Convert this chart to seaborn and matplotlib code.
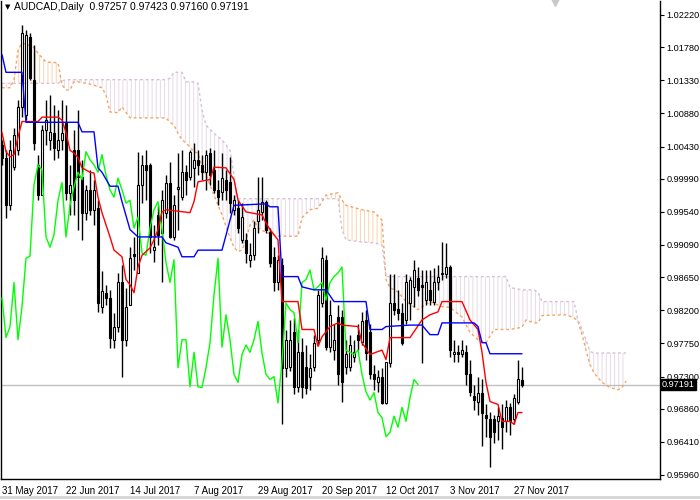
import numpy as np
import pandas as pd
import seaborn as sns
import matplotlib.pyplot as plt
from matplotlib.lines import Line2D

sns.set_theme(style="white")
plt.rcParams['font.family'] = ['Liberation Sans', 'DejaVu Sans']
plt.rcParams['hatch.linewidth'] = 0.7

# ---- daily candles, 31 May 2017 .. 29 Nov 2017 ----
opens = [1.0045, 1.0028, 0.9963, 1.0015, 1.0038, 1.0097, 1.0086, 1.0192, 1.0134, 1.0018,
         0.9977, 1.0066, 1.0052, 1.0061, 1.0038, 1.0052, 1.0075, 0.9980, 1.0038, 1.0038,
         1.0002, 0.9953, 0.9984, 0.9957, 0.9959, 0.9825, 0.9844, 0.9837, 0.9780, 0.9798,
         0.9858, 0.9780, 0.9828, 0.9897, 0.9871, 0.9991, 1.0018, 1.0018, 0.9902, 0.9950,
         0.9926, 0.9953, 0.9994, 0.9920, 0.9985, 0.9974, 1.0008, 1.0002, 1.0014, 1.0025,
         1.0018, 1.0008, 1.0034, 1.0011, 0.9984, 0.9981, 0.9998, 0.9995, 0.9957, 0.9959,
         0.9916, 0.9916, 0.9889, 0.9895, 0.9941, 0.9954, 0.9968, 0.9927, 0.9893, 0.9858,
         0.9882, 0.9742, 0.9743, 0.9791, 0.9716, 0.9763, 0.9743, 0.9730, 0.9743, 0.9780,
         0.9830, 0.9889, 0.9770, 0.9766, 0.9811, 0.9811, 0.9743, 0.9743, 0.9757, 0.9787,
         0.9777, 0.9807, 0.9790, 0.9733, 0.9723, 0.9730, 0.9694, 0.9749, 0.9830, 0.9822,
         0.9817, 0.9807, 0.9830, 0.9852, 0.9864, 0.9855, 0.9834, 0.9848, 0.9832, 0.9858,
         0.9869, 0.9869, 0.9879, 0.9760, 0.9763, 0.9760, 0.9763, 0.9733, 0.9703, 0.9696,
         0.9708, 0.9677, 0.9672, 0.9672, 0.9669, 0.9674, 0.9669, 0.9688, 0.9672, 0.9696,
         0.97257]
highs = [1.0052, 1.0038, 1.0052, 1.0068, 1.0106, 1.0208, 1.0202, 1.0198, 1.0181, 1.0032,
         1.0072, 1.0106, 1.0113, 1.0100, 1.0093, 1.0106, 1.0100, 1.0018, 1.0066, 1.0093,
         1.0025, 0.9991, 1.0011, 0.9998, 0.9970, 0.9873, 0.9855, 0.9848, 0.9817, 0.9871,
         0.9882, 0.9851, 0.9906, 0.9920, 1.0036, 1.0032, 1.0038, 1.0021, 0.9936, 0.9963,
         0.9984, 1.0004, 1.0022, 0.9977, 1.0034, 1.0038, 1.0018, 1.0038, 1.0048, 1.0038,
         1.0032, 1.0038, 1.0041, 1.0038, 0.9998, 1.0034, 1.0011, 1.0029, 0.9977, 0.9970,
         0.9966, 0.9925, 0.9912, 0.9941, 1.0002, 1.0002, 0.9970, 0.9932, 0.9906, 0.9895,
         0.9891, 0.9794, 0.9807, 0.9810, 0.9794, 0.9783, 0.9773, 0.9760, 0.9787, 0.9848,
         0.9906, 0.9895, 0.9834, 0.9801, 0.9828, 0.9821, 0.9780, 0.9787, 0.9780, 0.9801,
         0.9818, 0.9821, 0.9801, 0.9746, 0.9739, 0.9742, 0.9750, 0.9869, 0.9869, 0.9848,
         0.9830, 0.9869, 0.9866, 0.9889, 0.9879, 0.9875, 0.9875, 0.9875, 0.9878, 0.9882,
         0.9913, 0.9912, 0.9882, 0.9780, 0.9773, 0.9780, 0.9773, 0.9753, 0.9719, 0.9729,
         0.9726, 0.9692, 0.9682, 0.9678, 0.9689, 0.9692, 0.9698, 0.9694, 0.9706, 0.9753,
         0.97423]
lows = [1.0018, 0.9946, 0.9957, 1.0011, 1.0032, 1.0083, 1.0079, 1.0134, 1.0038, 0.9970,
        0.9977, 1.0045, 1.0038, 1.0025, 1.0028, 1.0038, 0.9970, 0.9950, 0.9950, 0.9930,
        0.9916, 0.9943, 0.9950, 0.9936, 0.9818, 0.9817, 0.9828, 0.9769, 0.9769, 0.9790,
        0.9730, 0.9772, 0.9828, 0.9875, 0.9871, 0.9966, 0.9970, 0.9898, 0.9886, 0.9909,
        0.9858, 0.9946, 0.9919, 0.9916, 0.9930, 0.9970, 0.9977, 0.9998, 0.9988, 1.0004,
        0.9998, 0.9984, 0.9991, 0.9980, 0.9963, 0.9970, 0.9970, 0.9953, 0.9950, 0.9925,
        0.9912, 0.9885, 0.9879, 0.9889, 0.9925, 0.9943, 0.9925, 0.9879, 0.9846, 0.9848,
        0.9665, 0.9729, 0.9737, 0.9706, 0.9709, 0.9701, 0.9706, 0.9712, 0.9737, 0.9773,
        0.9824, 0.9766, 0.9763, 0.9753, 0.9719, 0.9696, 0.9733, 0.9737, 0.9750, 0.9766,
        0.9773, 0.9753, 0.9726, 0.9712, 0.9709, 0.9692, 0.9692, 0.9743, 0.9814, 0.9807,
        0.9773, 0.9801, 0.9807, 0.9825, 0.9839, 0.9749, 0.9828, 0.9828, 0.9828, 0.9848,
        0.9862, 0.9864, 0.9757, 0.9750, 0.9750, 0.9756, 0.9719, 0.9703, 0.9685, 0.9678,
        0.9635, 0.9648, 0.9607, 0.9639, 0.9644, 0.9632, 0.9655, 0.9651, 0.9665, 0.9692,
        0.97160]
closes = [1.0028, 0.9963, 1.0038, 1.0059, 1.0097, 1.0198, 1.0195, 1.0136, 1.0048, 0.9977,
          1.0066, 1.0079, 1.0063, 1.0041, 1.0052, 1.0061, 0.9980, 0.9991, 0.9970, 1.0002,
          0.9953, 0.9984, 0.9957, 0.9984, 0.9830, 0.9846, 0.9837, 0.9783, 0.9798, 0.9858,
          0.9780, 0.9825, 0.9891, 0.9894, 0.9991, 1.0018, 1.0011, 0.9920, 0.9906, 0.9923,
          0.9970, 0.9994, 0.9920, 0.9963, 0.9988, 1.0008, 0.9998, 1.0036, 1.0025, 1.0018,
          1.0008, 1.0032, 1.0004, 0.9984, 0.9974, 1.0000, 0.9984, 0.9966, 0.9970, 0.9932,
          0.9947, 0.9898, 0.9895, 0.9932, 0.9957, 0.9968, 0.9930, 0.9885, 0.9858, 0.9889,
          0.9742, 0.9780, 0.9780, 0.9716, 0.9763, 0.9716, 0.9715, 0.9742, 0.9776, 0.9841,
          0.9891, 0.9770, 0.9814, 0.9780, 0.9733, 0.9722, 0.9760, 0.9773, 0.9763, 0.9780,
          0.9805, 0.9762, 0.9733, 0.9726, 0.9730, 0.9694, 0.9750, 0.9830, 0.9821, 0.9817,
          0.9776, 0.9858, 0.9862, 0.9875, 0.9848, 0.9852, 0.9858, 0.9834, 0.9858, 0.9866,
          0.9871, 0.9879, 0.9766, 0.9763, 0.9760, 0.9766, 0.9733, 0.9709, 0.9698, 0.9708,
          0.9681, 0.9674, 0.9648, 0.9654, 0.9676, 0.9661, 0.9688, 0.9669, 0.9701, 0.9726,
          0.97191]

# ---- Ichimoku lines (bar index, price) ----
tenkan_bar = [0, 1, 2, 3, 4, 5, 9, 10, 14, 15, 16, 17, 18, 19, 20, 22, 23, 24, 25, 27,
              28, 30, 31, 32, 33, 34, 35, 36, 37, 38, 39, 40, 41, 47, 48, 49, 52, 53, 56, 58,
              59, 61, 65, 66, 67, 69, 70, 74, 75, 78, 79, 80, 82, 84, 85, 89, 90, 92, 93, 95,
              96, 97, 102, 105, 107, 109, 110, 115, 117, 119, 120, 121, 122, 123, 124, 125, 127, 128, 129, 130]
tenkan_val = [1.0062, 1.0036, 1.0029, 1.0032, 1.0056, 1.0077, 1.0077, 1.0083, 1.0083, 1.0079,
              1.0062, 1.0038, 1.0034, 1.0028, 1.0014, 1.0008, 1.0007, 0.9974, 0.9953, 0.9920,
              0.9902, 0.9893, 0.9862, 0.9855, 0.9844, 0.9879, 0.9895, 0.9900, 0.9905, 0.9916,
              0.9930, 0.9954, 0.9957, 0.9953, 0.9968, 0.9995, 0.9998, 1.0015, 1.0014, 0.9998,
              0.9970, 0.9954, 0.9950, 0.9939, 0.9930, 0.9916, 0.9832, 0.9832, 0.9794, 0.9794,
              0.9771, 0.9784, 0.9798, 0.9803, 0.9800, 0.9798, 0.9776, 0.9760, 0.9762, 0.9766,
              0.9753, 0.9783, 0.9783, 0.9807, 0.9814, 0.9818, 0.9832, 0.9832, 0.9807, 0.9794,
              0.9763, 0.9722, 0.9696, 0.9694, 0.9692, 0.9669, 0.9669, 0.9665, 0.9681, 0.9681]
kijun_bar = [0, 1, 5, 6, 19, 20, 23, 24, 25, 27, 29, 30, 32, 34, 40, 41, 44, 45, 48, 49,
             55, 58, 66, 67, 69, 70, 74, 75, 78, 81, 83, 91, 92, 95, 96, 102, 105, 107, 109, 110,
             118, 119, 120, 121, 122, 130]
kijun_val = [1.0168, 1.0144, 1.0144, 1.0076, 1.0076, 1.0063, 1.0063, 1.0014, 1.0008, 0.9989,
             0.9989, 0.9968, 0.9930, 0.9920, 0.9920, 0.9912, 0.9906, 0.9893, 0.9893, 0.9902,
             0.9902, 0.9963, 0.9965, 0.9961, 0.9961, 0.9866, 0.9866, 0.9852, 0.9848, 0.9848,
             0.9832, 0.9832, 0.9794, 0.9794, 0.9798, 0.9800, 0.9800, 0.9787, 0.9787, 0.9803,
             0.9803, 0.9798, 0.9776, 0.9776, 0.9761, 0.9761]
cloud_bar = [0, 2, 3, 4, 5, 8, 9, 11, 14, 15, 16, 17, 18, 19, 22, 25, 26, 27, 29, 30,
             32, 41, 42, 43, 44, 45, 46, 48, 49, 50, 51, 53, 55, 57, 58, 59, 60, 61, 62, 63,
             64, 66, 69, 74, 75, 77, 79, 80, 81, 84, 85, 86, 90, 93, 95, 96, 97, 99, 101, 104,
             107, 110, 112, 115, 117, 119, 121, 123, 126, 127, 130, 131, 133, 134, 135, 141, 143, 144, 145, 146,
             147, 148, 150, 152, 154, 155, 156]
span_a = [1.0123, 1.0123, 1.0134, 1.0174, 1.0184, 1.0178, 1.0170, 1.0158, 1.0157, 1.0127,
          1.0120, 1.0120, 1.0131, 1.0131, 1.0128, 1.0123, 1.0113, 1.0090, 1.0089, 1.0097,
          1.0082, 1.0082, 1.0076, 1.0072, 1.0061, 1.0052, 1.0048, 1.0036, 1.0034, 1.0015,
          1.0004, 0.9977, 0.9950, 0.9919, 0.9906, 0.9900, 0.9902, 0.9916, 0.9936, 0.9943,
          0.9932, 0.9926, 0.9921, 0.9921, 0.9946, 0.9957, 0.9959, 0.9968, 0.9977, 0.9980,
          0.9970, 0.9963, 0.9957, 0.9954, 0.9943, 0.9862, 0.9851, 0.9845, 0.9832, 0.9821,
          0.9832, 0.9825, 0.9824, 0.9811, 0.9790, 0.9780, 0.9776, 0.9794, 0.9794, 0.9794,
          0.9797, 0.9807, 0.9803, 0.9803, 0.9813, 0.9814, 0.9810, 0.9805, 0.9787, 0.9766,
          0.9746, 0.9735, 0.9722, 0.9715, 0.9712, 0.9715, 0.9724]
span_b = [1.0129, 1.0129, 1.0129, 1.0129, 1.0129, 1.0129, 1.0129, 1.0129, 1.0129, 1.0132,
          1.0134, 1.0134, 1.0134, 1.0134, 1.0134, 1.0134, 1.0134, 1.0134, 1.0134, 1.0134,
          1.0134, 1.0134, 1.0136, 1.0144, 1.0144, 1.0144, 1.0131, 1.0131, 1.0129, 1.0093,
          1.0072, 1.0061, 1.0052, 1.0038, 1.0004, 0.9972, 0.9972, 0.9972, 0.9972, 0.9972,
          0.9972, 0.9972, 0.9972, 0.9972, 0.9972, 0.9972, 0.9972, 0.9972, 0.9972, 0.9972,
          0.9930, 0.9916, 0.9913, 0.9912, 0.9909, 0.9866, 0.9866, 0.9866, 0.9866, 0.9866,
          0.9866, 0.9866, 0.9866, 0.9866, 0.9866, 0.9866, 0.9866, 0.9866, 0.9866, 0.9851,
          0.9848, 0.9848, 0.9848, 0.9845, 0.9832, 0.9832, 0.9832, 0.9807, 0.9794, 0.9780,
          0.9764, 0.9762, 0.9762, 0.9762, 0.9762, 0.9762, 0.9762]
chikou_shift = 26

date_bar = [0, 16, 32, 48, 64, 80, 96, 112, 128]
date_labels = ["31 May 2017", "22 Jun 2017", "14 Jul 2017", "7 Aug 2017", "29 Aug 2017",
               "20 Sep 2017", "12 Oct 2017", "3 Nov 2017", "27 Nov 2017"]
price_ticks = [0.95960, 0.96410, 0.96860, 0.97300, 0.97750, 0.98200, 0.98650, 0.99090,
               0.99540, 0.99990, 1.00430, 1.00880, 1.01330, 1.01780, 1.02220]
last_price = 0.97191

df = pd.DataFrame({'open': opens, 'high': highs, 'low': lows, 'close': closes})
df['bar'] = np.arange(len(df))
df['bull'] = df['close'] >= df['open']

fig = plt.figure(figsize=(7, 5), dpi=100)
fig.patch.set_facecolor('white')
ax = fig.add_axes([1 / 700, 21 / 500, 659 / 700, 478 / 500])
ax.set_facecolor('white')

# cloud (hatched between the two spans)
ca = np.array(span_a)
cb = np.array(span_b)
ax.fill_between(cloud_bar, ca, cb, where=ca >= cb, interpolate=True, facecolor='none',
                edgecolor='#f8d3b2', hatch='||||', linewidth=0, zorder=1)
ax.fill_between(cloud_bar, ca, cb, where=ca < cb, interpolate=True, facecolor='none',
                edgecolor='#e6dae6', hatch='||||', linewidth=0, zorder=1)
sns.lineplot(x=cloud_bar, y=span_a, ax=ax, color='#f4a460', linewidth=1,
             zorder=2, estimator=None, sort=False)
sns.lineplot(x=cloud_bar, y=span_b, ax=ax, color='#d8bfd8', linewidth=1,
             zorder=2, estimator=None, sort=False)
for ln in ax.lines:
    ln.set_linestyle((0, (2, 2)))

# current price line
ax.axhline(last_price, color='#c0c0c0', linewidth=1, zorder=1.5)

# candles
ax.vlines(df['bar'], df['low'], df['high'], color='black', linewidth=1, zorder=3)
body = np.maximum((df['close'] - df['open']).abs(), 0.00005)
ax.bar(df['bar'], body, bottom=df[['open', 'close']].min(axis=1), width=0.6,
       color=np.where(df['bull'], 'white', 'black'), edgecolor='black', linewidth=0.8, zorder=4)

# indicator lines
sns.lineplot(x=df['bar'][chikou_shift:] - chikou_shift, y=df['close'][chikou_shift:], ax=ax,
             color='#00ff00', linewidth=1, zorder=5, estimator=None, sort=False)
sns.lineplot(x=tenkan_bar, y=tenkan_val, ax=ax, color='#ff0000', linewidth=1, zorder=5,
             estimator=None, sort=False)
sns.lineplot(x=kijun_bar, y=kijun_val, ax=ax, color='#0000ff', linewidth=1, zorder=5,
             estimator=None, sort=False)

ax.set_xlim(-0.25, 164.5)
ax.set_ylim(0.959055, 1.024105)

ax.yaxis.tick_right()
ax.set_yticks(price_ticks)
ax.set_yticklabels([f"{p:.5f}" for p in price_ticks])
ax.set_xticks(date_bar)
ax.set_xticklabels(date_labels, ha='left')
ax.tick_params(axis='both', which='both', direction='out', length=3, width=0.8,
               colors='black', labelsize=6.6, pad=1.5)
ax.tick_params(axis='x', labelsize=7, pad=2)
ax.set_xlabel('')
ax.set_ylabel('')
ax.grid(False)
for side in ['left', 'bottom', 'right']:
    ax.spines[side].set_color('black')
    ax.spines[side].set_linewidth(1)
ax.spines['top'].set_visible(False)

# header text
ax.text(0.006, 0.988, '\u25bc', transform=ax.transAxes, fontsize=5, va='center', ha='left',
        family=['DejaVu Sans'], color='black')
ax.text(0.02, 0.988, 'AUDCAD,Daily  0.97257 0.97423 0.97160 0.97191', transform=ax.transAxes,
        fontsize=7.5, va='center', ha='left', color='black')

# shift marker and last price box
ax.plot([0.8407], [0.997], marker='v', markersize=6, color='#c8c8c8', transform=ax.transAxes,
        clip_on=False, zorder=6)
ax.text(1.003, last_price, f"{last_price:.5f}", transform=ax.get_yaxis_transform(),
        fontsize=6.6, color='white', va='center', ha='left', zorder=7,
        bbox=dict(boxstyle='square,pad=0.12', facecolor='black', edgecolor='black'))

fig.add_artist(Line2D([0, 1], [3 / 500, 3 / 500], color='#d4d4d4', linewidth=2,
                      transform=fig.transFigure))

fig.savefig('out.png', dpi=100)
